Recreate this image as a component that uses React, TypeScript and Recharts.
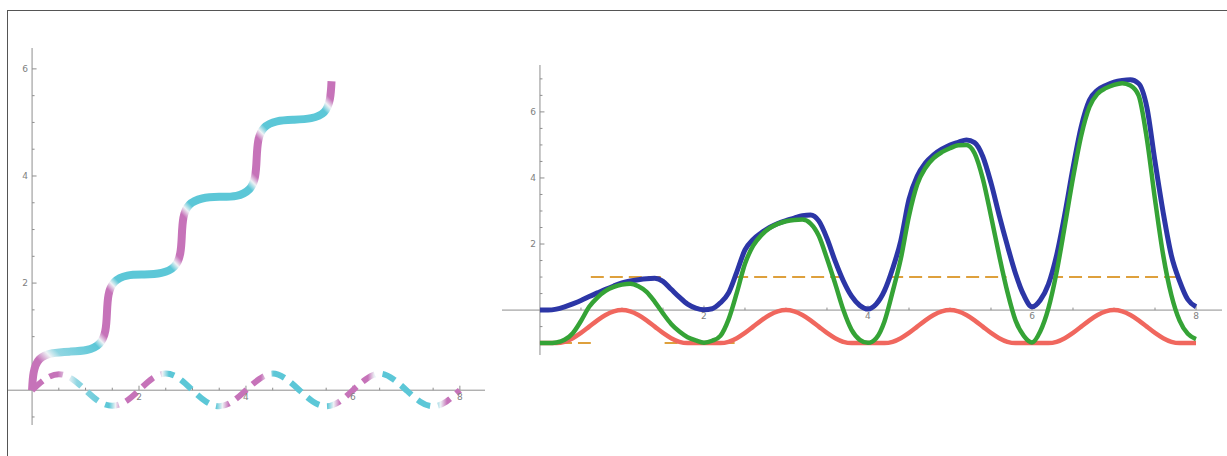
import { LineChart, Line, XAxis, YAxis, ReferenceLine } from 'recharts';

// ---- left panel: staircase curve and the dashed wave ----
const stairX = [0, 0.03, 0.14, 0.38, 0.70, 1.02, 1.26, 1.37, 1.40, 1.43, 1.54, 1.78, 2.10, 2.42, 2.66, 2.77, 2.80, 2.83, 2.94, 3.18, 3.50, 3.82, 4.06, 4.17, 4.20, 4.23, 4.34, 4.58, 4.90, 5.22, 5.46, 5.57, 5.60];
const stairY = [0, 0.33, 0.58, 0.69, 0.72, 0.75, 0.87, 1.11, 1.44, 1.78, 2.02, 2.14, 2.16, 2.19, 2.31, 2.55, 2.88, 3.22, 3.46, 3.58, 3.61, 3.63, 3.75, 3.99, 4.33, 4.66, 4.90, 5.02, 5.05, 5.08, 5.19, 5.44, 5.77];

const waveX = [0, 0.25, 0.5, 0.75, 1, 1.25, 1.5, 1.75, 2, 2.25, 2.5, 2.75, 3, 3.25, 3.5, 3.75, 4, 4.25, 4.5, 4.75, 5, 5.25, 5.5, 5.75, 6, 6.25, 6.5, 6.75, 7, 7.25, 7.5, 7.75, 8];
const waveY = [0, 0.21, 0.30, 0.21, 0, -0.21, -0.29, -0.21, 0, 0.22, 0.31, 0.22, 0, -0.21, -0.30, -0.21, 0, 0.21, 0.31, 0.21, 0, -0.21, -0.30, -0.21, 0, 0.21, 0.31, 0.21, 0, -0.21, -0.30, -0.21, 0];

// ---- right panel ----
const rx = [0, 0.1, 0.2, 0.3, 0.4, 0.5, 0.6, 0.7, 0.8, 0.9, 1, 1.1, 1.2, 1.3, 1.4, 1.5, 1.6, 1.7, 1.8, 1.9, 2, 2.1, 2.2, 2.3, 2.4, 2.5, 2.6, 2.7, 2.8, 2.9, 3, 3.1, 3.2, 3.3, 3.4, 3.5, 3.6, 3.7, 3.8, 3.9, 4, 4.1, 4.2, 4.3, 4.4, 4.5, 4.6, 4.7, 4.8, 4.9, 5, 5.1, 5.2, 5.3, 5.4, 5.5, 5.6, 5.7, 5.8, 5.9, 6, 6.1, 6.2, 6.3, 6.4, 6.5, 6.6, 6.7, 6.8, 6.9, 7, 7.1, 7.2, 7.3, 7.4, 7.5, 7.6, 7.7, 7.8, 7.9, 8];
const blue = [0, 0, 0.03, 0.10, 0.19, 0.29, 0.41, 0.52, 0.63, 0.73, 0.82, 0.88, 0.92, 0.95, 0.96, 0.87, 0.63, 0.39, 0.18, 0.06,
  0.01, 0.04, 0.22, 0.52, 1.15, 1.82, 2.14, 2.34, 2.50, 2.62, 2.71, 2.78, 2.86, 2.88, 2.70, 2.17, 1.48, 0.88, 0.42, 0.14,
  0.03, 0.18, 0.58, 1.25, 2.10, 3.35, 4.05, 4.45, 4.70, 4.87, 5.00, 5.08, 5.15, 5.07, 4.65, 3.85, 2.87, 1.95, 1.10, 0.45,
  0.10, 0.30, 0.78, 1.66, 2.90, 4.30, 5.55, 6.35, 6.66, 6.80, 6.90, 6.95, 6.97, 6.86, 6.15, 4.50, 2.95, 1.65, 0.88, 0.32, 0.10];
const green = [-1, -1, -0.98, -0.90, -0.70, -0.33, 0.10, 0.38, 0.58, 0.70, 0.77, 0.80, 0.72, 0.55, 0.25, -0.10, -0.42, -0.65, -0.82, -0.92,
  -0.99, -0.93, -0.78, -0.28, 0.52, 1.40, 1.95, 2.27, 2.48, 2.61, 2.69, 2.73, 2.74, 2.62, 2.25, 1.56, 0.80, 0.00, -0.60, -0.90,
  -0.99, -0.85, -0.35, 0.55, 1.55, 2.85, 3.80, 4.30, 4.60, 4.78, 4.90, 4.99, 5.00, 4.75, 3.98, 2.85, 1.65, 0.55, -0.32, -0.78,
  -0.98, -0.65, 0.05, 1.15, 2.55, 4.00, 5.28, 6.15, 6.55, 6.72, 6.82, 6.87, 6.80, 6.50, 5.20, 3.35, 1.66, 0.45, -0.32, -0.72, -0.88];
const red = [-1, -1, -1, -0.96, -0.85, -0.69, -0.50, -0.31, -0.15, -0.04, 0, -0.04, -0.15, -0.31, -0.50, -0.69, -0.85, -0.96, -1, -1,
  -1, -1, -1, -0.96, -0.85, -0.69, -0.50, -0.31, -0.15, -0.04, 0, -0.04, -0.15, -0.31, -0.50, -0.69, -0.85, -0.96, -1, -1,
  -1, -1, -1, -0.96, -0.85, -0.69, -0.50, -0.31, -0.15, -0.04, 0, -0.04, -0.15, -0.31, -0.50, -0.69, -0.85, -0.96, -1, -1,
  -1, -1, -1, -0.96, -0.85, -0.69, -0.50, -0.31, -0.15, -0.04, 0, -0.04, -0.15, -0.31, -0.50, -0.69, -0.85, -0.96, -1, -1, -1];

// dashed step: start/end x of each piece at +1 and at -1
const stepHigh = [[0.62, 1.52], [2.38, 3.68], [4.27, 5.69], [6.22, 7.79]];
const stepLow = [[0, 0.62], [1.52, 2.38], [3.68, 4.27], [5.69, 6.22], [7.79, 8]];

const leftXTicks = [0.5, 1, 1.5, 2, 2.5, 3, 3.5, 4, 4.5, 5, 5.5, 6, 6.5, 7, 7.5, 8];
const leftYTicks = [-0.5, 0.5, 1, 1.5, 2, 2.5, 3, 3.5, 4, 4.5, 5, 5.5, 6];
const rightXTicks = [0.5, 1, 1.5, 2, 2.5, 3, 3.5, 4, 4.5, 5, 5.5, 6, 6.5, 7, 7.5, 8];
const rightYTicks = [-1, -0.5, 0.5, 1, 1.5, 2, 2.5, 3, 3.5, 4, 4.5, 5, 5.5, 6, 6.5, 7];
const xLabels = [2, 4, 6, 8];
const yLabels = [2, 4, 6];

const stairData = stairX.map((x, i) => ({ x, y: stairY[i] }));
const waveData = waveX.map((x, i) => ({ x, y: waveY[i] }));
const blueData = rx.map((x, i) => ({ x, y: blue[i] }));
const greenData = rx.map((x, i) => ({ x, y: green[i] }));
const redData = rx.map((x, i) => ({ x, y: red[i] }));

function stepData(pieces: number[][], level: number) {
  const out: { x: number; y: number | null }[] = [];
  pieces.forEach(([a, b]) => {
    out.push({ x: a, y: level }, { x: b, y: level }, { x: b, y: null });
  });
  return out;
}

type Pane = { left: number; top: number; width: number; height: number; x: number[]; y: number[] };
const LEFT: Pane = { left: 8, top: 48, width: 477, height: 377, x: [-0.45, 8.47], y: [-0.65, 6.39] };
const RIGHT: Pane = { left: 502, top: 65, width: 720, height: 290, x: [-0.463, 8.317], y: [-1.36, 7.42] };

const AXIS = '#8e8e8e';
const labelStyle = { fill: '#808080', fontSize: 9, fontFamily: 'DejaVu Sans' };

// Mathematica style axes through the origin, ticks pointing inwards
function axes(p: Pane, xt: number[], yt: number[]) {
  const pxX = (p.x[1] - p.x[0]) / p.width;
  const pxY = (p.y[1] - p.y[0]) / p.height;
  const els = [
    <ReferenceLine key="ax" y={0} stroke={AXIS} strokeWidth={1} />,
    <ReferenceLine key="ay" x={0} stroke={AXIS} strokeWidth={1} />,
  ];
  xt.forEach((v) => {
    const major = xLabels.includes(v);
    els.push(
      <ReferenceLine
        key={'tx' + v}
        segment={[{ x: v, y: 0 }, { x: v, y: (major ? 4.5 : 2.5) * pxY }]}
        stroke={AXIS}
        label={major ? { value: String(v), position: 'bottom', offset: 3, ...labelStyle } : undefined}
      />
    );
  });
  yt.forEach((v) => {
    const major = yLabels.includes(v);
    els.push(
      <ReferenceLine
        key={'ty' + v}
        segment={[{ x: 0, y: v }, { x: (major ? 4.5 : 2.5) * pxX, y: v }]}
        stroke={AXIS}
        label={major ? { value: String(v), position: 'left', offset: 4, ...labelStyle } : undefined}
      />
    );
  });
  return els;
}

const MAG = '#c673b9';
const CYAN = '#5cc7d7';
const PALE = '#eef2f5';
const stops: [number, string][] = [
  [0, MAG], [0.06, MAG], [0.085, PALE], [0.105, '#8fd6e2'], [0.18, CYAN], [0.195, PALE], [0.21, MAG],
  [0.29, MAG], [0.305, PALE], [0.32, CYAN], [0.43, CYAN], [0.445, PALE], [0.46, MAG],
  [0.535, MAG], [0.55, PALE], [0.565, CYAN], [0.69, CYAN], [0.705, PALE], [0.72, MAG],
  [0.785, MAG], [0.8, PALE], [0.815, CYAN], [0.94, CYAN], [0.955, PALE], [0.97, MAG], [1, MAG],
];

function paneStyle(p: Pane): React.CSSProperties {
  return { position: 'absolute', left: p.left, top: p.top };
}

export default function App() {
  return (
    <div style={{ position: 'relative', width: 1227, height: 456, background: '#fff', overflow: 'hidden' }}>
      <style>{'body{margin:0}'}</style>
      {/* frame */}
      <div style={{ position: 'absolute', left: 7, top: 10, width: 1230, height: 460, borderTop: '1.5px solid #555', borderLeft: '1.5px solid #555' }} />

      <div style={paneStyle(LEFT)}>
        <LineChart width={LEFT.width} height={LEFT.height} margin={{ top: 0, right: 0, bottom: 0, left: 0 }}>
          <defs>
            <linearGradient id="stairGrad" x1="0" y1="1" x2="1" y2="0">
              {stops.map(([o, c], i) => <stop key={i} offset={o} stopColor={c} />)}
            </linearGradient>
            <linearGradient id="waveGrad" x1="0" y1="0" x2="1" y2="0">
              {stops.map(([o, c], i) => <stop key={i} offset={o} stopColor={c} />)}
            </linearGradient>
          </defs>
          <XAxis dataKey="x" type="number" domain={LEFT.x} allowDataOverflow hide />
          <YAxis type="number" domain={LEFT.y} allowDataOverflow hide />
          {axes(LEFT, leftXTicks, leftYTicks)}
          <Line data={waveData} dataKey="y" type="natural" stroke="url(#waveGrad)" strokeWidth={6} strokeDasharray="14 8" dot={false} isAnimationActive={false} />
          <Line data={stairData} dataKey="y" type="natural" stroke="url(#stairGrad)" strokeWidth={8} dot={false} isAnimationActive={false} />
        </LineChart>
      </div>

      <div style={paneStyle(RIGHT)}>
        <LineChart width={RIGHT.width} height={RIGHT.height} margin={{ top: 0, right: 0, bottom: 0, left: 0 }}>
          <XAxis dataKey="x" type="number" domain={RIGHT.x} allowDataOverflow hide />
          <YAxis type="number" domain={RIGHT.y} allowDataOverflow hide />
          {axes(RIGHT, rightXTicks, rightYTicks)}
          <Line data={stepData(stepLow, -1)} dataKey="y" type="linear" stroke="#dea03c" strokeWidth={2} strokeDasharray="13 6" dot={false} isAnimationActive={false} />
          <Line data={stepData(stepHigh, 1)} dataKey="y" type="linear" stroke="#dea03c" strokeWidth={2} strokeDasharray="13 6" dot={false} isAnimationActive={false} />
          <Line data={blueData} dataKey="y" type="monotone" stroke="#2c36a6" strokeWidth={5} dot={false} isAnimationActive={false} />
          <Line data={redData} dataKey="y" type="monotone" stroke="#f0675e" strokeWidth={4.5} dot={false} isAnimationActive={false} />
          <Line data={greenData} dataKey="y" type="monotone" stroke="#35a336" strokeWidth={4.5} dot={false} isAnimationActive={false} />
        </LineChart>
      </div>
    </div>
  );
}
